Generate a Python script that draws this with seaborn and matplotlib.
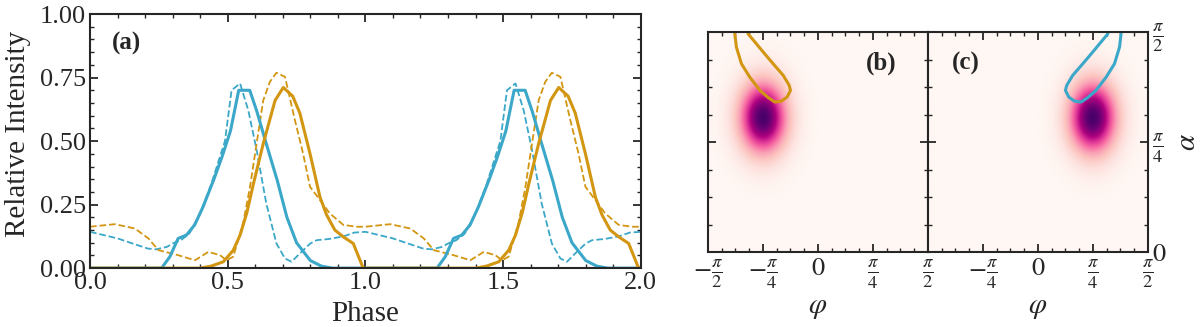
import numpy as np
import pandas as pd
import matplotlib
matplotlib.use("Agg")
import matplotlib.pyplot as plt
import seaborn as sns
from matplotlib.ticker import MultipleLocator, FixedLocator

# one period of each pulse profile (the chart repeats it over phase 0..2)
blue_solid_x = [0, 0.26, 0.29, 0.32, 0.35, 0.38, 0.41, 0.45, 0.48, 0.51, 0.54, 0.58, 0.605, 0.64, 0.68, 0.715, 0.75, 0.80, 0.84, 0.88]
blue_solid_y = [0, 0, 0.045, 0.117, 0.13, 0.17, 0.24, 0.35, 0.44, 0.54, 0.70, 0.70, 0.62, 0.49, 0.345, 0.20, 0.10, 0.03, 0.008, 0]

blue_dash_x = [0, 0.05, 0.10, 0.16, 0.21, 0.24, 0.28, 0.30, 0.33, 0.36, 0.40, 0.44, 0.49, 0.514, 0.545, 0.575, 0.605, 0.64, 0.677, 0.708, 0.732, 0.762, 0.80, 0.823, 0.87, 0.92, 0.96]
blue_dash_y = [0.143, 0.13, 0.117, 0.095, 0.077, 0.074, 0.084, 0.097, 0.11, 0.135, 0.215, 0.33, 0.50, 0.70, 0.727, 0.62, 0.465, 0.255, 0.097, 0.038, 0.025, 0.058, 0.097, 0.11, 0.115, 0.125, 0.14]

gold_solid_x = [0, 0.40, 0.44, 0.484, 0.52, 0.545, 0.57, 0.593, 0.629, 0.672, 0.702, 0.736, 0.762, 0.799, 0.835, 0.859, 0.889, 0.92, 0.956, 0.992]
gold_solid_y = [0, 0, 0.008, 0.025, 0.07, 0.13, 0.22, 0.33, 0.49, 0.66, 0.711, 0.677, 0.61, 0.45, 0.28, 0.21, 0.15, 0.123, 0.097, 0.0]

gold_dash_x = [0, 0.09, 0.163, 0.212, 0.248, 0.32, 0.381, 0.43, 0.472, 0.496, 0.52, 0.556, 0.581, 0.605, 0.629, 0.653, 0.677, 0.708, 0.744, 0.774, 0.799, 0.835, 0.871, 0.92, 0.968]
gold_dash_y = [0.163, 0.173, 0.156, 0.117, 0.071, 0.051, 0.031, 0.064, 0.051, 0.031, 0.045, 0.176, 0.32, 0.49, 0.66, 0.733, 0.769, 0.753, 0.583, 0.45, 0.32, 0.268, 0.215, 0.17, 0.163]

# emission maps: blob centre / width (rad) and the contour loops
blob_b = (-np.pi / 4, 0.957)
blob_c = (np.pi / 4, 0.957)
blob_sigma = (0.24, 0.18)

contour_b_phi = [-0.378, -0.371, -0.348, -0.310, -0.264, -0.226, -0.196, -0.166, -0.140, -0.125, -0.131, -0.158, -0.204, -0.249, -0.287, -0.318]
contour_b_alpha = [0.992, 0.932, 0.856, 0.795, 0.735, 0.702, 0.682, 0.686, 0.705, 0.735, 0.758, 0.803, 0.856, 0.909, 0.955, 0.992]
contour_c_phi = [0.378, 0.371, 0.348, 0.310, 0.264, 0.226, 0.196, 0.166, 0.140, 0.125, 0.131, 0.158, 0.204, 0.249, 0.287, 0.318]
contour_c_alpha = [0.992, 0.932, 0.856, 0.795, 0.735, 0.702, 0.682, 0.686, 0.705, 0.735, 0.758, 0.803, 0.856, 0.909, 0.955, 0.992]

BLUE = "#3ba7c9"
GOLD = "#d39612"
TICK_FS = 19
LABEL_FS = 21

sns.set_style("ticks")
plt.rcParams['font.family'] = ['Liberation Serif', 'DejaVu Serif']
plt.rcParams['mathtext.fontset'] = 'stix'
plt.rcParams['font.size'] = TICK_FS
for ax_ in ('xtick', 'ytick'):
    plt.rcParams[ax_ + '.direction'] = 'in'
    plt.rcParams[ax_ + '.major.size'] = 6
    plt.rcParams[ax_ + '.minor.size'] = 3
    plt.rcParams[ax_ + '.major.width'] = 1.3
    plt.rcParams[ax_ + '.minor.width'] = 1.0
plt.rcParams['axes.linewidth'] = 1.5


def two_periods(x, y):
    xx = list(x) + [v + 1 for v in x] + [x[0] + 2]
    yy = list(y) + list(y) + [y[0]]
    return pd.DataFrame({'phase': xx, 'intensity': yy})


fig = plt.figure(figsize=(12, 3.27), dpi=100)
ax = fig.add_axes([0.075, 0.180, 0.459, 0.777])

for xs, ys, col, ls, lw in [(blue_dash_x, blue_dash_y, BLUE, '--', 1.3),
                            (gold_dash_x, gold_dash_y, GOLD, '--', 1.3),
                            (blue_solid_x, blue_solid_y, BLUE, '-', 2.2),
                            (gold_solid_x, gold_solid_y, GOLD, '-', 2.2)]:
    df = two_periods(xs, ys)
    sns.lineplot(data=df, x='phase', y='intensity', ax=ax, color=col, linestyle=ls,
                 linewidth=lw, estimator=None, sort=False)

ax.set_xlim(0, 2)
ax.set_ylim(0, 1)
ax.xaxis.set_major_locator(MultipleLocator(0.5))
ax.xaxis.set_minor_locator(MultipleLocator(0.1))
ax.yaxis.set_major_locator(MultipleLocator(0.25))
ax.yaxis.set_minor_locator(MultipleLocator(0.05))
ax.xaxis.set_major_formatter(matplotlib.ticker.FormatStrFormatter('%.1f'))
ax.yaxis.set_major_formatter(matplotlib.ticker.FormatStrFormatter('%.2f'))
ax.tick_params(which='both', top=True, right=True)
ax.tick_params(axis='both', labelsize=TICK_FS, pad=3)
ax.set_xlabel('Phase', fontsize=LABEL_FS, labelpad=5)
ax.set_ylabel('Relative Intensity', fontsize=LABEL_FS, labelpad=2)
ax.yaxis.set_label_coords(-0.108, 0.53)
ax.text(0.04, 0.93, '(a)', transform=ax.transAxes, fontsize=18, fontweight='bold', va='top')

# heat maps
phi = np.linspace(-np.pi / 2, np.pi / 2, 300)
alpha = np.linspace(0, np.pi / 2, 150)
P, A = np.meshgrid(phi, alpha)

xt = [-np.pi / 2, -np.pi / 4, 0, np.pi / 4, np.pi / 2]
xtl_b = [r'$-\frac{\pi}{2}$', r'$-\frac{\pi}{4}$', r'$0$', r'$\frac{\pi}{4}$', r'$\frac{\pi}{2}$']
xtl_c = ['', r'$-\frac{\pi}{4}$', r'$0$', r'$\frac{\pi}{4}$', r'$\frac{\pi}{2}$']

panels = [(0.590, blob_b, contour_b_phi, contour_b_alpha, GOLD, '(b)', 0.72, xtl_b),
          (0.7733, blob_c, contour_c_phi, contour_c_alpha, BLUE, '(c)', 0.11, xtl_c)]
for i, (left, blob, cphi, calpha, col, lab, lx, xtl) in enumerate(panels):
    hx = fig.add_axes([left, 0.229, 0.1833, 0.673])
    Z = np.exp(-((P - blob[0]) ** 2) / (2 * blob_sigma[0] ** 2) - ((A - blob[1]) ** 2) / (2 * blob_sigma[1] ** 2))
    hx.imshow(Z, extent=[-np.pi / 2, np.pi / 2, 0, np.pi / 2], origin='lower', cmap='RdPu',
              aspect='auto', interpolation='bilinear', vmin=0, vmax=1)
    cdf = pd.DataFrame({'phi': np.array(cphi) * np.pi, 'alpha': np.array(calpha) * np.pi / 2})
    sns.lineplot(data=cdf, x='phi', y='alpha', ax=hx, color=col, linewidth=2.2, estimator=None, sort=False)
    hx.set_xlim(-np.pi / 2, np.pi / 2)
    hx.set_ylim(0, np.pi / 2)
    hx.xaxis.set_major_locator(FixedLocator(xt))
    hx.xaxis.set_minor_locator(MultipleLocator(np.pi / 16))
    hx.yaxis.set_major_locator(FixedLocator([0, np.pi / 4, np.pi / 2]))
    hx.yaxis.set_minor_locator(MultipleLocator(np.pi / 16))
    hx.set_xticklabels(xtl)
    hx.tick_params(which='both', top=True, right=True, left=True, bottom=True)
    hx.tick_params(axis='x', labelsize=TICK_FS, pad=4)
    hx.set_xlabel(r'$\varphi$', fontsize=LABEL_FS, labelpad=3)
    if i == 0:
        hx.set_yticklabels([])
        hx.set_ylabel('')
    else:
        hx.yaxis.tick_right()
        hx.tick_params(which='both', left=True, labelleft=False, labelright=True)
        hx.set_yticklabels([r'$0$', r'$\frac{\pi}{4}$', r'$\frac{\pi}{2}$'])
        hx.tick_params(axis='y', labelsize=TICK_FS, pad=3)
        hx.yaxis.set_label_position('right')
        hx.set_ylabel(r'$\alpha$', fontsize=LABEL_FS, rotation=90, labelpad=6)
    hx.text(lx, 0.91, lab, transform=hx.transAxes, fontsize=18, fontweight='bold', va='top')

fig.savefig('out.png', dpi=100)
